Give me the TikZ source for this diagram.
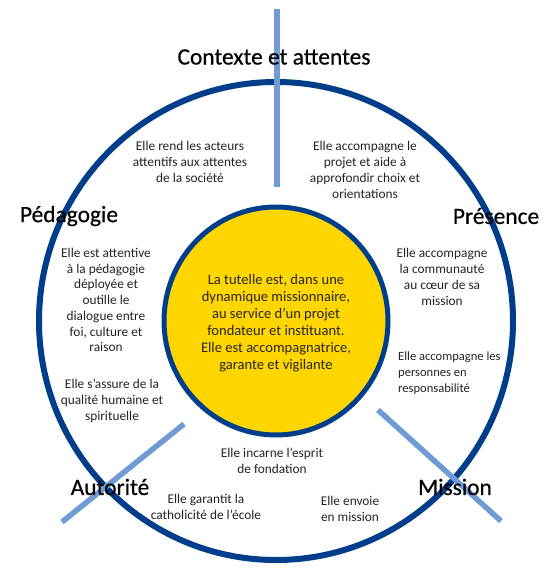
\documentclass[tikz,border=0pt]{standalone}
\usepackage{fontspec}
\setmainfont{Carlito}
\newfontfamily\titlefont[FakeBold=0.5]{Carlito}
\definecolor{navy}{RGB}{0,62,140}
\definecolor{lblue}{RGB}{112,155,213}
\definecolor{sun}{RGB}{255,214,0}
\definecolor{txt}{RGB}{35,35,35}
\begin{document}
\begin{tikzpicture}[x=1bp,y=-1bp,
  body/.style={align=center,text=txt,inner sep=0pt,font=\fontsize{13.4}{15.8}\selectfont},
  title/.style={inner sep=0pt,text=black,font=\titlefont\fontsize{23.5}{26}\selectfont},
  spoke/.style={draw=lblue,line width=5.5bp},
]
\useasboundingbox (0,0) rectangle (546,574);
% outer ring
\draw[navy,line width=6bp] (276,321) ellipse [x radius=237,y radius=239];
% inner disc
\draw[navy,fill=sun,line width=5bp] (276,321) ellipse [x radius=112,y radius=114];
% spokes
\draw[spoke] (277,9) -- (277,187);
\draw[spoke] (184,424) -- (62,522);
\draw[spoke] (378,410) -- (501,521);
% titles
\node[title] (t1) at (274,57) {Contexte et attentes};
\node[title] (t2) at (69,216) {Pédagogie};
\node[title] (t3) at (496,216) {Présence};
\node[title] (t4) at (110,487) {Autorité};
\node[title] (t5) at (455,487) {Mission};
% texts
\node[body] (a1) at (190,162) {Elle rend les acteurs\\attentifs aux attentes\\de la société};
\node[body] (a2) at (365,170) {Elle accompagne le\\projet et aide à\\approfondir choix et\\orientations};
\node[body] (b1) at (106,300) {Elle est attentive\\à la pédagogie\\déployée et\\outille le\\dialogue entre\\foi, culture et\\raison};
\node[body] (b2) at (112,401) {Elle s’assure de la\\qualité humaine et\\spirituelle};
\node[body] (c1) at (442,277) {Elle accompagne\\la communauté\\au cœur de sa\\mission};
\node[body,align=left,anchor=west,font=\fontsize{12.6}{15.8}\selectfont] (c2) at (398,373) {Elle accompagne les\\personnes en\\responsabilité};
\node[body] (d1) at (272,461) {Elle incarne l’esprit\\de fondation};
\node[body] (d2) at (206,507) {Elle garantit la\\catholicité de l’école};
\node[body] (d3) at (350,509) {Elle envoie\\en mission};
\node[body,font=\fontsize{14.6}{17}\selectfont,text=black!85] (ctr) at (276,323) {La tutelle est, dans une\\dynamique missionnaire,\\au service d’un projet\\fondateur et instituant.\\Elle est accompagnatrice,\\garante et vigilante};
\end{tikzpicture}
\end{document}
